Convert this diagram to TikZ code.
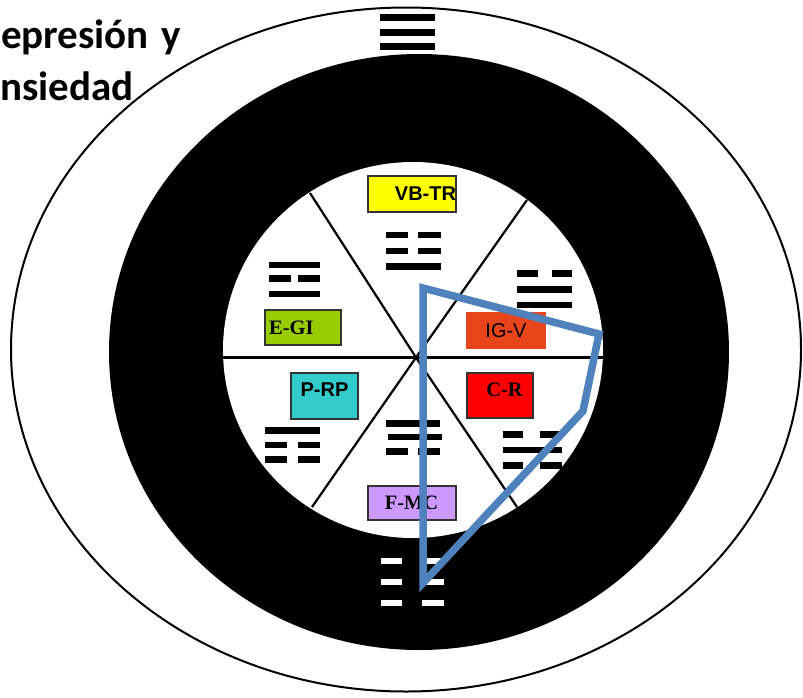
\documentclass[tikz,border=0pt]{standalone}
\usepackage{fontspec}
\newfontfamily\titlefont{Carlito}
\newfontfamily\arialfont{Liberation Sans}
\newfontfamily\timesfont{Liberation Serif}
\definecolor{ygold}{HTML}{FFFF00}
\definecolor{egreen}{HTML}{99CC00}
\definecolor{igorange}{HTML}{E8461A}
\definecolor{pcyan}{HTML}{33CCCC}
\definecolor{cred}{HTML}{FF0000}
\definecolor{fpurple}{HTML}{CC99FF}
\definecolor{polyblue}{HTML}{4F81BD}
\definecolor{boxedge}{HTML}{333333}
\newcommand{\yangbar}[4][black]{\fill[#1] (#2,#4-3.4) rectangle (#3,#4+3.4);}
\newcommand{\yinbar}[6][black]{\fill[#1] (#2,#6-3.4) rectangle (#3,#6+3.4);\fill[#1] (#4,#6-3.4) rectangle (#5,#6+3.4);}
\tikzset{
  labbox/.style={draw=boxedge, line width=1.2pt, inner sep=0pt},
  spoke/.style={line width=2.2pt, black},
  blueline/.style={draw=polyblue, line width=7.5pt, line join=miter, miter limit=3},
  sanslab/.style={font=\arialfont\fontsize{20}{20}\selectfont, inner sep=0pt},
  sansboldlab/.style={font=\arialfont\bfseries\fontsize{20}{20}\selectfont, inner sep=0pt},
  seriflab/.style={font=\timesfont\bfseries\fontsize{20.5}{20.5}\selectfont, inner sep=0pt},
  titlelab/.style={font=\titlefont\bfseries\fontsize{41}{48}\selectfont, inner sep=0pt, anchor=base west}
}
\begin{document}
\begin{tikzpicture}[x=1pt,y=-1pt]
\useasboundingbox (0,0) rectangle (803,697);
\fill[white] (0,0) rectangle (803,697);
% rings
\draw[line width=2pt] (406,349.5) ellipse [x radius=395pt, y radius=342pt];
\fill[black] (419,352) ellipse [x radius=310pt, y radius=298pt];
\fill[white] (413,350) ellipse [x radius=190pt, y radius=188pt];
% spokes
\coordinate (c) at (416,357.5);
\coordinate (ul) at (310,193);
\coordinate (ur) at (527,200);
\coordinate (ll) at (312,507);
\coordinate (lr) at (517,507);
\coordinate (hl) at (223,357.5);
\coordinate (hr) at (603,357.5);
\draw[spoke] (ul) -- (c) -- (lr);
\draw[spoke] (ur) -- (c) -- (ll);
\draw[spoke] (hl) -- (hr);
% title
\node[titlelab] (title1) at (-25,48) {Depresión\hspace{3pt} y};
\node[titlelab] (title2) at (-25,100) {Ansiedad};
% top trigram (heaven)
\yangbar{380}{435}{17.5}
\yangbar{380}{435}{32.5}
\yangbar{380}{435}{46.5}
% bottom trigram (earth), white
\yinbar[white]{381}{402}{422}{444}{561}
\yinbar[white]{381}{402}{422}{444}{582}
\yinbar[white]{381}{402}{422}{444}{603}
% VB-TR trigram (thunder)
\yinbar{386}{408}{418}{441}{235}
\yinbar{386}{408}{418}{441}{251}
\yangbar{386}{441}{266.5}
% E-GI trigram (fire)
\yangbar{269}{320}{265}
\yinbar{269}{291}{298}{320}{278.5}
\yangbar{269}{320}{294}
% IG-V trigram (lake)
\yinbar{517}{538}{552}{572}{273.5}
\yangbar{517}{572}{289.5}
\yangbar{517}{572}{305}
% P-RP trigram (mountain)
\yangbar{265}{320}{430.5}
\yinbar{265}{287}{298}{320}{445}
\yinbar{265}{287}{298}{320}{459.5}
% C-R trigram (water)
\yinbar{503}{523}{540}{562}{434.5}
\yangbar{503}{562}{450}
\yinbar{503}{523}{540}{562}{465.5}
% F-MC trigram (wind)
\yangbar{386}{440}{423.5}
\yangbar{388}{442}{437}
\yinbar{386}{408}{418}{440}{451.5}
% boxes
\node[labbox, fill=ygold, minimum width=88pt, minimum height=36pt] (vbtr) at (412,194) {};
\node[sansboldlab] (vbtrt) at (425.5,194) {VB-TR};
\node[labbox, fill=egreen, minimum width=76pt, minimum height=35pt] (egi) at (303,327.5) {};
\node[seriflab, anchor=west] (egit) at (269,328) {E-GI};
\node[labbox, draw=igorange, fill=igorange, minimum width=78pt, minimum height=35pt] (igv) at (506,330.5) {};
\node[sanslab] (igvt) at (506,330.5) {IG-V};
\node[labbox, fill=pcyan, minimum width=67pt, minimum height=46pt] (prp) at (324.5,396) {};
\node[sansboldlab] (prpt) at (324.5,389.5) {P-RP};
\node[labbox, fill=cred, minimum width=66pt, minimum height=45pt] (cr) at (500,395.5) {};
\node[seriflab] (crt) at (504.5,389.5) {C-R};
\node[labbox, fill=fpurple, minimum width=88pt, minimum height=34pt] (fmc) at (412,503) {};
\node[seriflab] (fmct) at (411.5,503) {F-MC};
% blue polygon
\coordinate (p1) at (423,288);
\coordinate (p2) at (599,334);
\coordinate (p3) at (583,411);
\coordinate (p4) at (423,583);
\draw[blueline] (p1) -- (p2) -- (p3) -- (p4) -- cycle;
\end{tikzpicture}
\end{document}
